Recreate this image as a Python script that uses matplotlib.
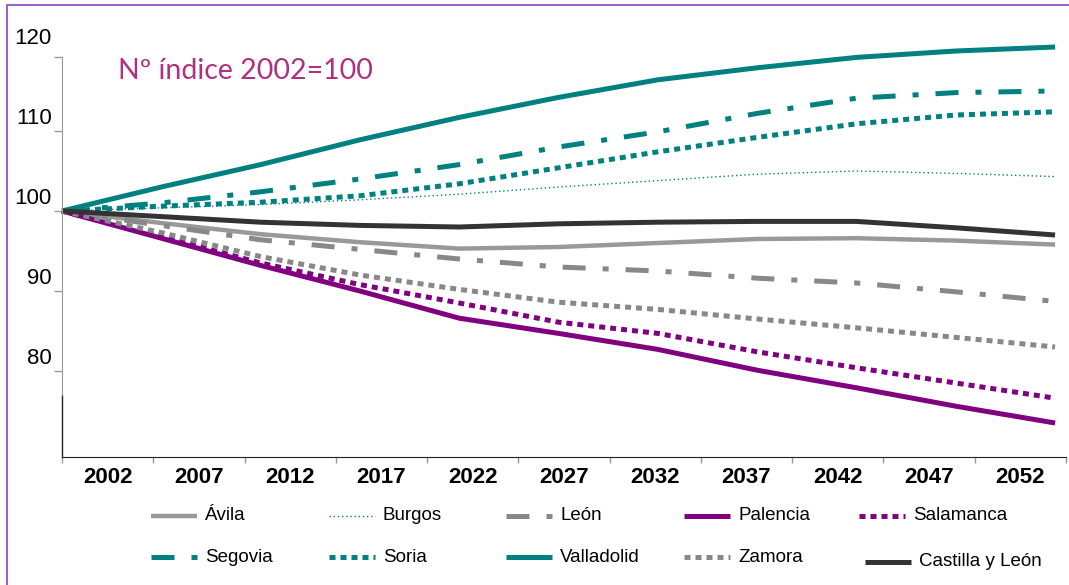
import matplotlib.pyplot as plt
import numpy as np
from matplotlib.patches import Rectangle
from matplotlib import transforms

# Índice de población proyectada por provincia (2002 = 100)
years = [2002, 2007, 2012, 2017, 2022, 2027, 2032, 2037, 2042, 2047, 2052]
year_labels = ["2002", "2007", "2012", "2017", "2022", "2027",
               "2032", "2037", "2042", "2047", "2052"]
y_tick_values = [80, 90, 100, 110, 120]

avila = [100, 98.5, 97.1, 96.1, 95.3, 95.5, 96.0, 96.5, 96.6, 96.3, 95.8]
burgos = [100, 100.4, 100.8, 101.4, 102.1, 103.0, 103.8, 104.6, 105.0, 104.7, 104.3]
leon = [100, 98.2, 96.4, 95.2, 94.0, 93.0, 92.5, 91.6, 91.0, 89.9, 88.7]
palencia = [100, 96.6, 93.2, 90.0, 86.6, 84.7, 82.7, 80.1, 77.9, 75.6, 73.5]
salamanca = [100, 96.8, 93.5, 90.8, 88.5, 86.1, 84.7, 82.4, 80.4, 78.5, 76.6]
segovia = [100, 101.0, 102.4, 104.0, 105.8, 108.0, 109.9, 112.2, 114.1, 114.8, 115.0]
soria = [100, 100.6, 101.1, 101.9, 103.4, 105.4, 107.4, 109.2, 110.9, 112.0, 112.4]
valladolid = [100, 103.0, 105.8, 108.9, 111.7, 114.2, 116.4, 117.9, 119.2, 120.0, 120.5]
zamora = [100, 97.3, 94.3, 92.0, 90.2, 88.6, 87.7, 86.5, 85.4, 84.2, 83.0]
castilla_leon = [100, 99.3, 98.6, 98.2, 98.0, 98.4, 98.6, 98.7, 98.7, 97.9, 97.0]

TEAL = "#008080"
PURPLE = "#800080"
GREY = "#888888"
LW = 3.6
dashdot = (4.6, 3.4, 1.2, 3.4)
squares = (1.2, 1.0)

series = [
    ("Ávila", avila, dict(color="#999999", lw=3.2)),
    ("Burgos", burgos, dict(color=TEAL, lw=1.0, dashes=(1, 2))),
    ("León", leon, dict(color=GREY, lw=LW, dashes=dashdot)),
    ("Palencia", palencia, dict(color=PURPLE, lw=LW)),
    ("Salamanca", salamanca, dict(color=PURPLE, lw=LW, dashes=squares)),
    ("Segovia", segovia, dict(color=TEAL, lw=LW, dashes=dashdot)),
    ("Soria", soria, dict(color=TEAL, lw=LW, dashes=squares)),
    ("Valladolid", valladolid, dict(color=TEAL, lw=LW)),
    ("Zamora", zamora, dict(color=GREY, lw=LW, dashes=squares)),
    ("Castilla y León", castilla_leon, dict(color="#333333", lw=LW)),
]

W, H = 1069, 585
fig = plt.figure(figsize=(W / 100, H / 100), dpi=100)
plt.rcParams["font.family"] = ["Liberation Sans", "DejaVu Sans"]

# axes box in pixel terms
left, right, top, bottom = 62, 1066, 57, 457
ax = fig.add_axes([left / W, 1 - bottom / H, (right - left) / W, (bottom - top) / H])

for name, vals, style in series:
    ax.plot(years, vals, solid_capstyle="butt", clip_on=False, **style)

x_min, x_max = 2002, 2052.55
ax.set_xlim(x_min, x_max)
ax.set_ylim(69.25, 119.25)

# category edges with labels centred between them
edges = np.linspace(x_min, x_max, len(year_labels) + 1)
centres = (edges[:-1] + edges[1:]) / 2
ax.set_xticks(edges)
ax.set_xticklabels([])
ax.set_xticks(centres, minor=True)
ax.set_xticklabels(year_labels, minor=True, fontsize=16, fontweight="bold")
ax.tick_params(axis="x", which="major", direction="out", length=4, color="#999999", width=1)
ax.tick_params(axis="x", which="minor", length=0, pad=7)

ax.set_yticks([v for v in y_tick_values if v < 119.25] + [119.25])
ax.tick_params(axis="y", direction="out", length=6, color="#999999", width=1, labelleft=False)
lbl_shift = transforms.ScaledTranslation(-10 / 100, 12 / 100, fig.dpi_scale_trans)
for v in y_tick_values:
    ax.text(0, v, str(v), transform=ax.get_yaxis_transform() + lbl_shift,
            ha="right", va="center", fontsize=16, clip_on=False)

for s in ["top", "right"]:
    ax.spines[s].set_visible(False)
ax.spines["bottom"].set_color("#222222")
ax.spines["left"].set_color("#999999")
ax.spines["left"].set_bounds(77, 119.25)
ax.plot([x_min, x_min], [69.25, 77], color="#222222", lw=1, clip_on=False)

fig.text(118 / W, 1 - 79 / H, "Nº índice 2002=100", fontsize=20.5, color="#B0307F",
         family=["Lato", "DejaVu Sans"], va="baseline")

# hand-placed legend, two rows of five
lax = fig.add_axes([0, 0, 1, 1])
lax.set_xlim(0, W)
lax.set_ylim(H, 0)
lax.axis("off")
legend_spots = [(151, 516), (329, 516), (506, 516), (684, 516), (859, 516),
                (151, 557), (329, 557), (506, 557), (684, 557), (865, 562)]
for (name, vals, style), (lx, ly) in zip(series, legend_spots):
    lax.plot([lx, lx + 46], [ly, ly], solid_capstyle="butt", **style)
    lax.text(lx + 54, ly, name, fontsize=13.5, va="center", ha="left")

# outer frame
fig.add_artist(Rectangle((7 / W, -0.1), 1.2, 1 - 5 / H + 0.1, transform=fig.transFigure,
                         fill=False, edgecolor="#9966CC", lw=1.5))

fig.savefig("out.png", dpi=100)
